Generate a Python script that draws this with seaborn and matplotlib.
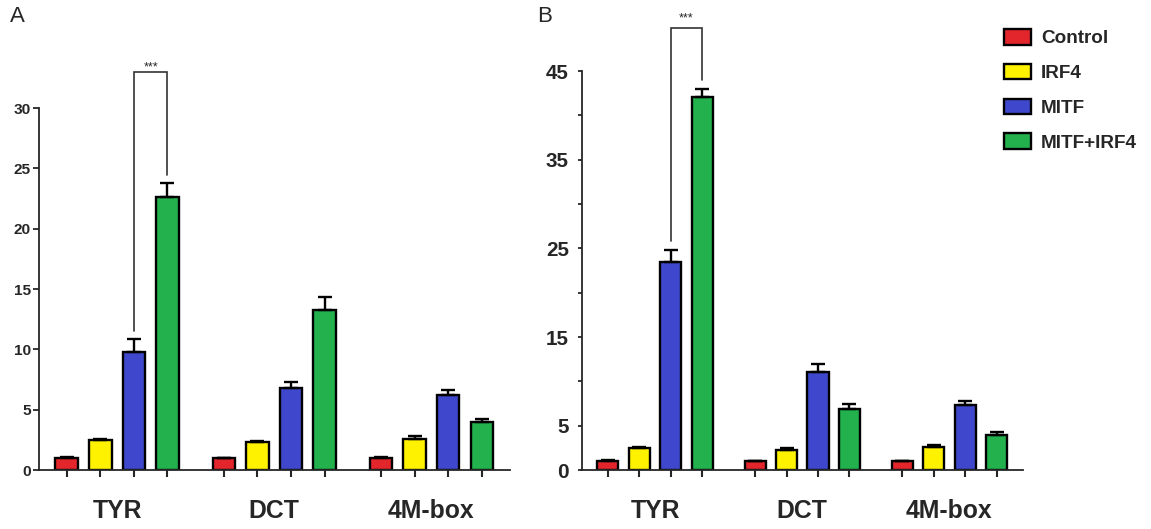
import numpy as np
import pandas as pd
import matplotlib
matplotlib.use('Agg')
import matplotlib.pyplot as plt
from matplotlib import font_manager
import seaborn as sns

genes = ['TYR', 'DCT', '4M-box']
groups = ['Control', 'IRF4', 'MITF', 'MITF+IRF4']
colors = ['#E3262B', '#FFF200', '#3F48CC', '#22B14C']

# panel A values (per group, across genes)
a_control = [1.0, 0.97, 1.0]
a_irf4 = [2.45, 2.3, 2.6]
a_mitf = [9.8, 6.8, 6.2]
a_both = [22.65, 13.25, 3.95]
a_control_err = [0.05, 0.05, 0.05]
a_irf4_err = [0.1, 0.1, 0.18]
a_mitf_err = [1.05, 0.5, 0.4]
a_both_err = [1.1, 1.1, 0.3]

# panel B values
b_control = [1.05, 1.0, 1.0]
b_irf4 = [2.5, 2.25, 2.65]
b_mitf = [23.5, 11.0, 7.3]
b_both = [42.1, 6.85, 3.95]
b_control_err = [0.05, 0.05, 0.05]
b_irf4_err = [0.05, 0.25, 0.2]
b_mitf_err = [1.3, 1.0, 0.5]
b_both_err = [0.9, 0.55, 0.3]

a_yticks = [0, 5, 10, 15, 20, 25, 30]
a_yticklabels = ['0', '5', '10', '15', '20', '25', '30']
b_yticks = [0, 5, 10, 15, 20, 25, 30, 35, 40, 45]
b_yticklabels = ['0', '5', '', '15', '', '25', '', '35', '', '45']

names = {f.name for f in font_manager.fontManager.ttflist}
narrow = 'Liberation Sans Narrow' in names
fam = 'Liberation Sans Narrow' if narrow else 'Liberation Sans'
k = 1.0 if narrow else 0.85

sns.set_style('ticks')
plt.rcParams['font.family'] = [fam, 'DejaVu Sans']
plt.rcParams['font.weight'] = 'bold'


def make_df(vals, errs):
    rows = []
    for g, v, e in zip(groups, vals, errs):
        for gene, vv, ee in zip(genes, v, e):
            rows.append({'gene': gene, 'group': g, 'value': vv, 'err': ee})
    return pd.DataFrame(rows)


df_a = make_df([a_control, a_irf4, a_mitf, a_both],
               [a_control_err, a_irf4_err, a_mitf_err, a_both_err])
df_b = make_df([b_control, b_irf4, b_mitf, b_both],
               [b_control_err, b_irf4_err, b_mitf_err, b_both_err])

fig = plt.figure(figsize=(11.51, 5.29), dpi=100)
W, H = 1151, 529
ax_a = fig.add_axes([38.5 / W, 1 - 470 / H, (510 - 38.5) / W, (470 - 108) / H])
ax_b = fig.add_axes([581.5 / W, 1 - 470 / H, (1023 - 581.5) / W, (470 - 71) / H])


def draw_panel(ax, df, ylim, yticks, yticklabels, tick_fs, ytick_len, ytick_pad):
    sns.barplot(data=df, x='gene', y='value', hue='group', order=genes,
                hue_order=groups, palette=colors, width=0.855, gap=0.33,
                edgecolor='black', linewidth=1.7, saturation=1, errorbar=None,
                ax=ax)
    centers = {}
    for cont, g in zip(ax.containers, groups):
        for bar in cont:
            cx = bar.get_x() + bar.get_width() / 2
            gene = genes[int(round(cx))]
            row = df[(df.group == g) & (df.gene == gene)].iloc[0]
            centers[(g, gene)] = cx
            ax.errorbar(cx, row.value, yerr=[[0], [row.err]], fmt='none',
                        ecolor='black', elinewidth=1.7, capsize=5, capthick=1.7,
                        zorder=1)
    ax.set_xlim(-0.5, 2.5)
    ax.set_ylim(*ylim)
    ax.set_yticks(yticks)
    ax.set_yticklabels(yticklabels, fontsize=tick_fs * k, fontweight='bold')
    ax.set_xticks(sorted(centers.values()), minor=True)
    ax.tick_params(axis='x', which='major', length=0, pad=21,
                   labelsize=21 * k)
    ax.tick_params(axis='x', which='minor', length=5, width=1.5, direction='out')
    ax.tick_params(axis='y', length=ytick_len, width=1.3, pad=ytick_pad)
    for lbl in ax.get_xticklabels():
        lbl.set_fontweight('bold')
    sns.despine(ax=ax)
    for s in ['left', 'bottom']:
        ax.spines[s].set_linewidth(1.3)
    ax.set_xlabel('')
    ax.set_ylabel('')
    ax.get_legend().remove()
    return centers


ca = draw_panel(ax_a, df_a, (0, 30), a_yticks, a_yticklabels, 13, 4.5, 1)
cb = draw_panel(ax_b, df_b, (0, 45), b_yticks, b_yticklabels, 17.5, 3, 6)


def bracket(ax, centers, df, top, text_y):
    x1 = centers[('MITF', 'TYR')]
    x2 = centers[('MITF+IRF4', 'TYR')]
    r1 = df[(df.group == 'MITF') & (df.gene == 'TYR')].iloc[0]
    r2 = df[(df.group == 'MITF+IRF4') & (df.gene == 'TYR')].iloc[0]
    y1 = r1.value + r1.err + 0.02 * top
    y2 = r2.value + r2.err + 0.02 * top
    ax.plot([x1, x1, x2, x2], [y1, top, top, y2], color='#333333', lw=1.2,
            clip_on=False, solid_joinstyle='miter')
    ax.text((x1 + x2) / 2, text_y, '***', ha='center', va='center',
            fontsize=9, fontweight='normal', clip_on=False)


bracket(ax_a, ca, df_a, 33.0, 33.4)
bracket(ax_b, cb, df_b, 49.9, 50.9)

handles, labels = ax_a.get_legend_handles_labels()
fig.legend(handles, labels, loc='upper left',
           bbox_to_anchor=(1004 / W, 1 - 29 / H), frameon=False,
           handlelength=1.45, handleheight=0.9, borderaxespad=0,
           handletextpad=0.5, labelspacing=0.87, borderpad=0,
           prop={'family': [fam, 'DejaVu Sans'], 'weight': 'bold',
                 'size': 16 * k})

fig.text(10 / W, 1 - 17 / H, 'A', fontsize=16, fontweight='normal',
         family='Liberation Sans', va='center', ha='left')
fig.text(537 / W, 1 - 17 / H, 'B', fontsize=16, fontweight='normal',
         family='Liberation Sans', va='center', ha='left')

fig.savefig('out.png', dpi=100)
